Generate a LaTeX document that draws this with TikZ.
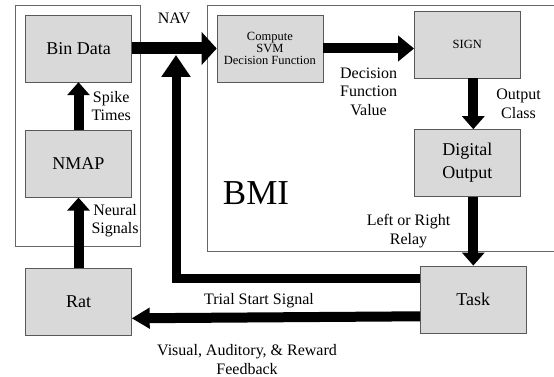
\documentclass[tikz,border=0pt]{standalone}
\usepackage{fontspec}
\setmainfont{Liberation Serif}
\newfontfamily\tnr{Liberation Serif}
\usetikzlibrary{positioning,arrows.meta}

\begin{document}
\begin{tikzpicture}[x=1pt, y=1pt, node distance=48pt and 85pt,
    blk/.style={draw=black!65, fill=black!15, minimum width=106pt, minimum height=67pt, inner sep=2pt, align=center, font=\tnr\fontsize{18}{23}\selectfont},
    smalltxt/.style={font=\tnr\fontsize{12.5}{12}\selectfont},
    lbl/.style={inner sep=2pt, align=center, font=\tnr\fontsize{16}{18.5}\selectfont},
    panel/.style={draw=black!60, line width=0.8pt},
    fat/.style={line width=10pt, -{Triangle[length=13pt, width=22pt]}},
    wide/.style={line width=12pt, -{Triangle[length=15pt, width=32pt]}}]

  \useasboundingbox (0,0) rectangle (554,-377);

  % the two panels
  \draw[panel] (15,-5) rectangle (140,-246);
  \draw[panel] (554,-5) -- (207,-5) -- (207,-251) -- (554,-251);

  \node[blk] (bin) at (78.5,-48.5) {Bin Data};
  \node[blk, below=48pt of bin] (nmap) {NMAP};
  \node[blk, below=70pt of nmap] (rat) {Rat};
  \node[blk, smalltxt, right=85pt of bin] (svm) {Compute\\SVM\\Decision Function};
  \node[blk, smalltxt, right=91pt of svm, yshift=4pt] (sign) {SIGN};
  \node[blk, below=51pt of sign] (dout) {Digital\\Output};
  \node[blk, below=69pt of dout, xshift=6pt] (task) {Task};
  \node[font=\tnr\fontsize{35}{35}\selectfont] (bmi) at (256,-193) {BMI};
  \coordinate (navjoin) at (176,-55);

  \draw[fat] (rat) -- node[lbl, pos=0.67, right=6pt] (neural) {Neural\\Signals} (nmap);
  \draw[fat] (nmap) -- node[lbl, right=6pt] (spike) {Spike\\Times} (bin);
  \draw[wide] (bin) -- node[lbl, above=17pt] (nav) {NAV} (svm);
  \draw[line width=10pt, -{Triangle[length=16pt, width=25pt]}] (svm) -- node[lbl, below=12pt] (dfv) {Decision\\Function\\Value} (svm -| sign.west);
  \draw[fat] (sign.south -| task) -- node[lbl, right=16pt] (oclass) {Output\\Class} (dout.north -| task);
  \draw[fat] (dout.south -| task) -- node[lbl, left=16pt] (relay) {Left or Right\\Relay} (task);
  \draw[line width=9pt, -{Triangle[length=22pt, width=28pt]}] ([yshift=21pt]task.west) -| node[lbl, pos=0.33, below=9pt] (trial) {Trial Start Signal} (navjoin);
  \draw[line width=10pt, -{Triangle[length=18pt, width=20pt]}] ([yshift=-17pt]task.west) -- node[lbl, pos=0.6, below=20pt] (feedback) {Visual, Auditory, \& Reward\\Feedback} ([yshift=-17pt]rat.east);
\end{tikzpicture}
\end{document}
